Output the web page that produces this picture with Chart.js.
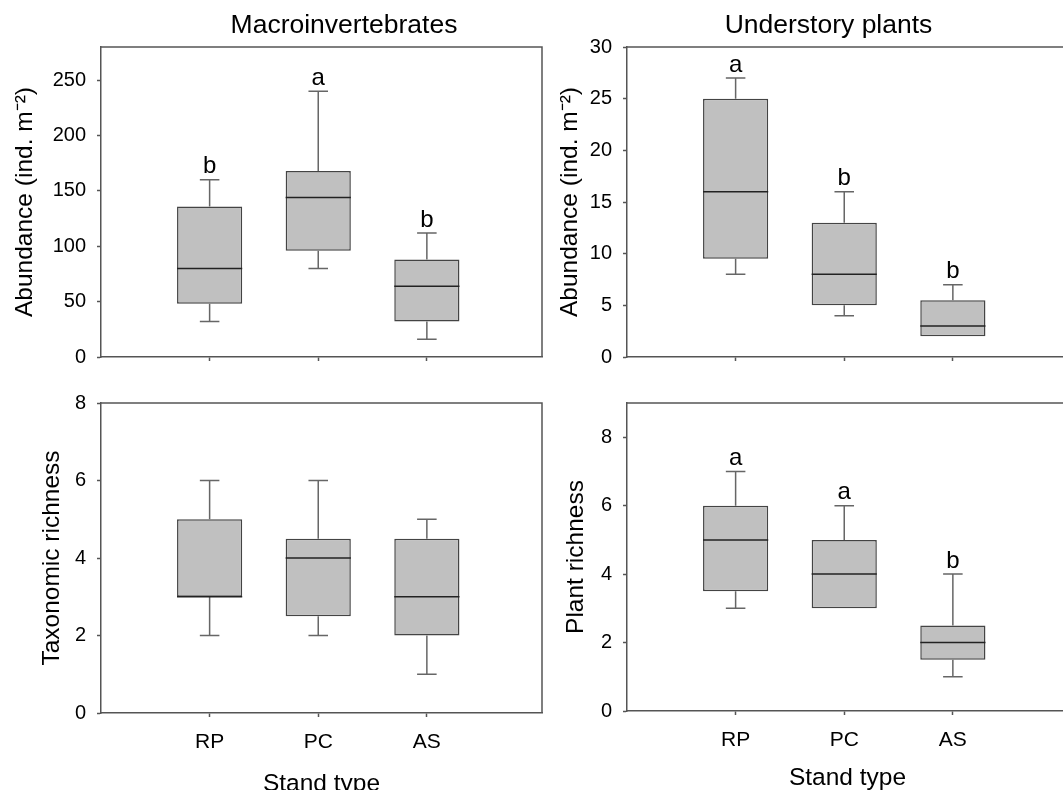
<!DOCTYPE html>
<html><head><meta charset="utf-8">
<script src="https://cdn.jsdelivr.net/npm/chart.js@4.4.1/dist/chart.umd.min.js"></script>
<style>
html,body{margin:0;padding:0;background:#fff;overflow:hidden;width:1063px;height:790px;}
canvas{position:absolute;}
</style></head><body>
<canvas id="c1" width="545" height="380" style="left:0;top:0"></canvas>
<canvas id="c2" width="545" height="380" style="left:545px;top:0"></canvas>
<canvas id="c3" width="545" height="430" style="left:0;top:380px"></canvas>
<canvas id="c4" width="545" height="430" style="left:545px;top:380px"></canvas>
<script>
// ---------- data ----------
const categories = ['RP', 'PC', 'AS'];
const catPositions = [1, 2, 3];

// Macroinvertebrates – abundance (ind. m-2)
const macroAbundLow    = [32, 80, 16];
const macroAbundQ1     = [48, 96, 32];
const macroAbundMedian = [80, 144, 64];
const macroAbundQ3     = [136, 168, 88];
const macroAbundHigh   = [160, 240, 112];
const macroAbundLetters = ['b', 'a', 'b'];
const macroAbundTicks  = [0, 50, 100, 150, 200, 250];

// Understory plants – abundance (ind. m-2)
const plantAbundLow    = [8, 4, 2];
const plantAbundQ1     = [9.5, 5, 2];
const plantAbundMedian = [16, 8, 3];
const plantAbundQ3     = [25, 13, 5.5];
const plantAbundHigh   = [27, 16, 7];
const plantAbundLetters = ['a', 'b', 'b'];
const plantAbundTicks  = [0, 5, 10, 15, 20, 25, 30];

// Macroinvertebrates – taxonomic richness
const macroRichLow    = [2, 2, 1];
const macroRichQ1     = [3, 2.5, 2];
const macroRichMedian = [3, 4, 3];
const macroRichQ3     = [5, 4.5, 4.5];
const macroRichHigh   = [6, 6, 5];
const macroRichLetters = ['', '', ''];
const macroRichTicks  = [0, 2, 4, 6, 8];

// Understory plants – plant richness
const plantRichLow    = [3, 3, 1];
const plantRichQ1     = [3.5, 3, 1.5];
const plantRichMedian = [5, 4, 2];
const plantRichQ3     = [6, 5, 2.5];
const plantRichHigh   = [7, 6, 4];
const plantRichLetters = ['a', 'a', 'b'];
const plantRichTicks  = [0, 2, 4, 6, 8];

// ---------- drawing ----------
const FONT = "'Liberation Sans', Arial, sans-serif";
Chart.defaults.font.family = FONT;
Chart.defaults.color = '#000';
const AXIS = '#555';

const boxExtras = {
  id: 'boxExtras',
  afterDatasetsDraw(chart, args, o) {
    const ctx = chart.ctx;
    const ys = chart.scales.y;
    const meta = chart.getDatasetMeta(0);
    ctx.save();
    meta.data.forEach((bar, i) => {
      const x = bar.x, w = bar.width;
      const cap = w * 0.15;
      const pLow = ys.getPixelForValue(o.low[i]);
      const pQ1 = ys.getPixelForValue(o.q1[i]);
      const pMed = ys.getPixelForValue(o.median[i]);
      const pQ3 = ys.getPixelForValue(o.q3[i]);
      const pHigh = ys.getPixelForValue(o.high[i]);
      ctx.strokeStyle = '#666';
      ctx.lineWidth = 1.5;
      ctx.beginPath();
      if (o.high[i] > o.q3[i]) {
        ctx.moveTo(x, pQ3); ctx.lineTo(x, pHigh);
        ctx.moveTo(x - cap, pHigh); ctx.lineTo(x + cap, pHigh);
      }
      if (o.low[i] < o.q1[i]) {
        ctx.moveTo(x, pQ1); ctx.lineTo(x, pLow);
        ctx.moveTo(x - cap, pLow); ctx.lineTo(x + cap, pLow);
      }
      ctx.stroke();
      ctx.strokeStyle = '#222';
      ctx.beginPath();
      ctx.moveTo(x - w / 2, pMed); ctx.lineTo(x + w / 2, pMed);
      ctx.stroke();
      if (o.letters[i]) {
        ctx.fillStyle = '#000';
        ctx.font = '24px ' + FONT;
        ctx.textAlign = 'center';
        ctx.textBaseline = 'alphabetic';
        ctx.fillText(o.letters[i], x, pHigh - 6.5);
      }
    });
    ctx.restore();
  }
};

const frame = {
  id: 'frame',
  afterDraw(chart) {
    const {ctx, chartArea: a} = chart;
    ctx.save();
    ctx.strokeStyle = AXIS;
    ctx.lineWidth = 1.5;
    ctx.beginPath();
    ctx.moveTo(a.left, a.top);
    ctx.lineTo(a.right, a.top);
    ctx.lineTo(a.right, a.bottom);
    ctx.stroke();
    ctx.restore();
  }
};

const panelTitle = {
  id: 'panelTitle',
  afterDraw(chart, args, o) {
    if (!o.text) return;
    const ctx = chart.ctx;
    ctx.save();
    ctx.fillStyle = '#000';
    ctx.font = '26.5px ' + FONT;
    ctx.textAlign = 'center';
    ctx.textBaseline = 'alphabetic';
    ctx.fillText(o.text, chart.chartArea.left + o.offset, o.baseline);
    ctx.restore();
  }
};

function makePanel(id, p) {
  const boxes = catPositions.map((c, i) => ({x: c, y: [p.q1[i], p.q3[i]]}));
  new Chart(document.getElementById(id), {
    type: 'bar',
    data: {
      datasets: [{
        data: boxes,
        backgroundColor: '#c0c0c0',
        borderColor: '#444',
        borderWidth: 1.5,
        borderSkipped: false,
        barPercentage: 0.6,
        categoryPercentage: 1
      }]
    },
    options: {
      responsive: false,
      animation: false,
      devicePixelRatio: 1,
      events: [],
      layout: {padding: p.padding},
      plugins: {
        legend: {display: false},
        tooltip: {enabled: false},
        title: {display: false},
        boxExtras: {low: p.low, q1: p.q1, median: p.median, q3: p.q3, high: p.high, letters: p.letters},
        panelTitle: {text: p.title, offset: p.titleOffset, baseline: 32.5}
      },
      scales: {
        x: {
          type: 'linear',
          min: 0,
          max: 4.06,
          offset: false,
          afterBuildTicks: s => { s.ticks = catPositions.map(v => ({value: v})); },
          afterFit: s => { s.height = p.xHeight; },
          ticks: {
            display: p.showX,
            callback: (v, i) => categories[i],
            font: {size: 21},
            padding: 13,
            maxRotation: 0,
            autoSkip: false
          },
          grid: {offset: false, drawOnChartArea: false, drawTicks: true, tickLength: 4, tickColor: AXIS, tickWidth: 1.5},
          border: {display: true, color: AXIS, width: 1.5},
          title: {display: p.showX, text: 'Stand type', font: {size: 24.5}, padding: {top: 0, bottom: p.xTitlePad}}
        },
        y: {
          min: 0,
          max: p.yMax,
          afterBuildTicks: s => { s.ticks = p.ticks.map(v => ({value: v})); },
          afterFit: s => { s.width = p.yWidth; },
          ticks: {font: {size: 20}, padding: 11},
          grid: {drawOnChartArea: false, drawTicks: true, tickLength: 4, tickColor: AXIS, tickWidth: 1.5},
          border: {display: true, color: AXIS, width: 1.5},
          title: {display: true, text: p.yTitle, font: {size: 24.5}, padding: {top: p.yTitlePad, bottom: 0}}
        }
      }
    },
    plugins: [boxExtras, frame, panelTitle]
  });
}

makePanel('c1', {
  low: macroAbundLow, q1: macroAbundQ1, median: macroAbundMedian, q3: macroAbundQ3, high: macroAbundHigh,
  letters: macroAbundLetters, ticks: macroAbundTicks, yMax: 280,
  title: 'Macroinvertebrates', titleOffset: 243,
  yTitle: 'Abundance (ind. m\u207B\u00B2)', yTitlePad: 11,
  padding: {left: 0, top: 47, right: 3, bottom: 0}, yWidth: 101, xHeight: 17, showX: false, xTitlePad: 0
});
makePanel('c2', {
  low: plantAbundLow, q1: plantAbundQ1, median: plantAbundMedian, q3: plantAbundQ3, high: plantAbundHigh,
  letters: plantAbundLetters, ticks: plantAbundTicks, yMax: 30,
  title: 'Understory plants', titleOffset: 201.5,
  yTitle: 'Abundance (ind. m\u207B\u00B2)', yTitlePad: 10.6,
  padding: {left: 0, top: 47, right: 22, bottom: 0}, yWidth: 82, xHeight: 17, showX: false, xTitlePad: 0
});
makePanel('c3', {
  low: macroRichLow, q1: macroRichQ1, median: macroRichMedian, q3: macroRichQ3, high: macroRichHigh,
  letters: macroRichLetters, ticks: macroRichTicks, yMax: 8,
  title: '', titleOffset: 0,
  yTitle: 'Taxonomic richness', yTitlePad: 37.7,
  padding: {left: 0, top: 17, right: 3, bottom: 0}, yWidth: 101, xHeight: 97, showX: true, xTitlePad: 11.3
});
makePanel('c4', {
  low: plantRichLow, q1: plantRichQ1, median: plantRichMedian, q3: plantRichQ3, high: plantRichHigh,
  letters: plantRichLetters, ticks: plantRichTicks, yMax: 9,
  title: '', titleOffset: 0,
  yTitle: 'Plant richness', yTitlePad: 16.3,
  padding: {left: 0, top: 14, right: 22, bottom: 0}, yWidth: 82, xHeight: 99, showX: true, xTitlePad: 17.5
});
</script>
</body></html>
